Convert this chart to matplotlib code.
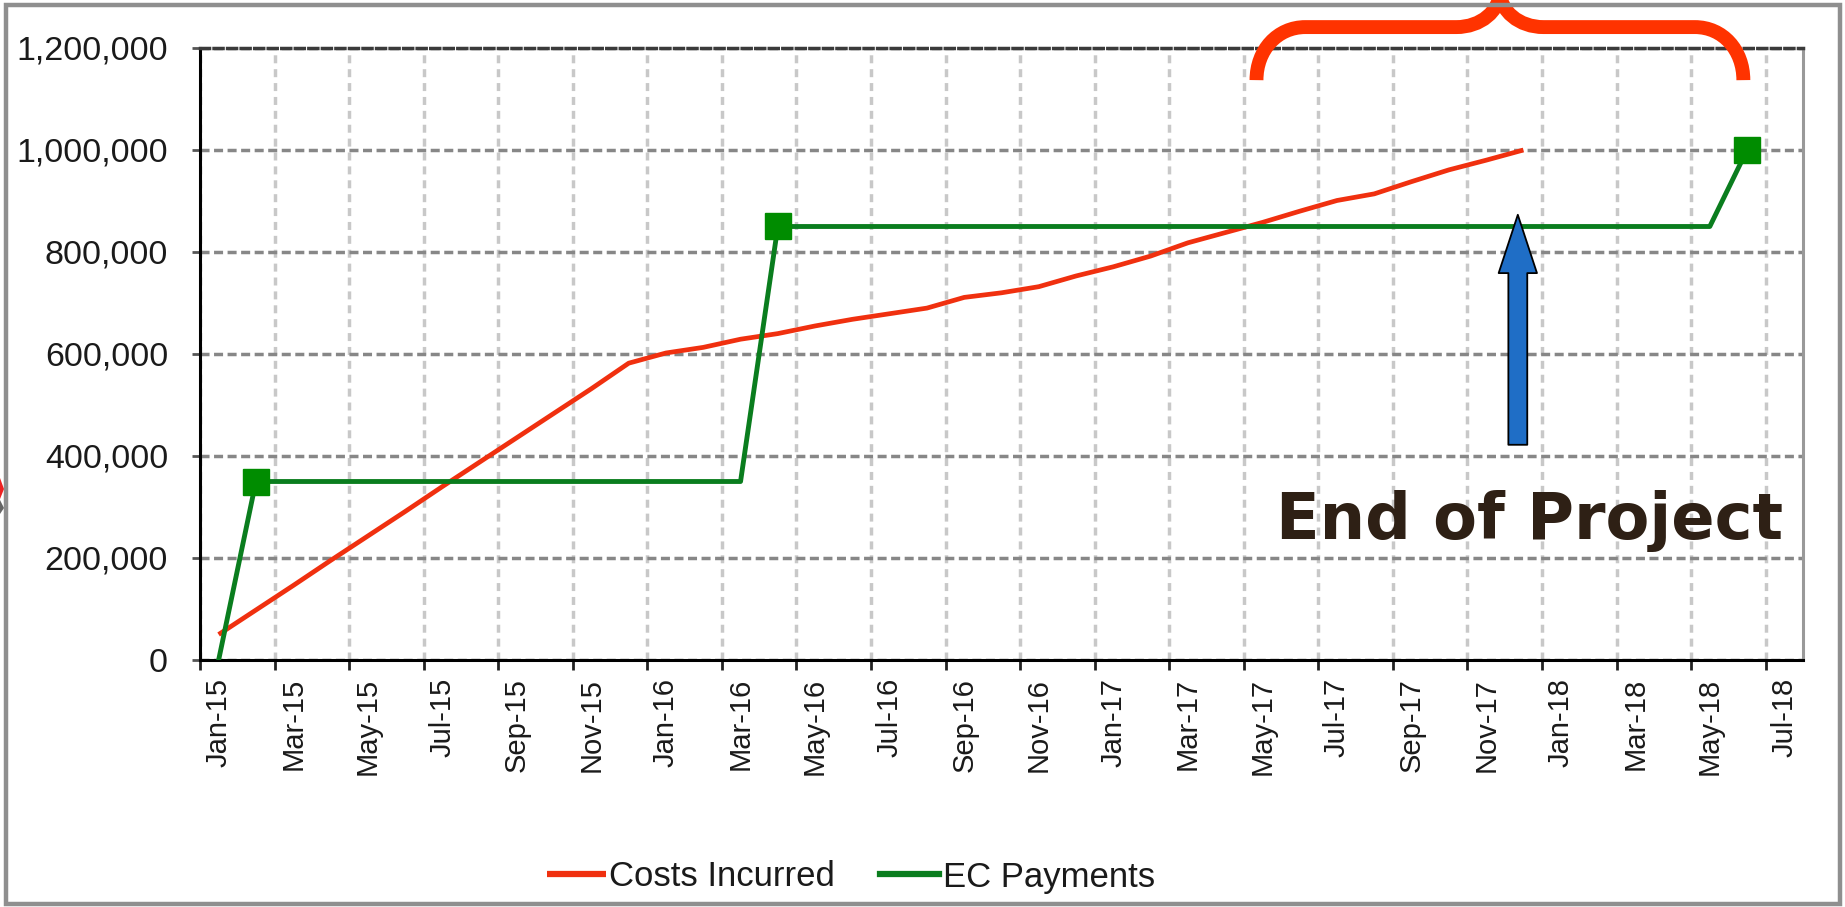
import matplotlib
matplotlib.use("Agg")
import matplotlib.pyplot as plt
from matplotlib.path import Path
from matplotlib.patches import PathPatch, Rectangle, Polygon
from matplotlib.ticker import FixedLocator, FixedFormatter, FuncFormatter

# === Data ===
# month index 0 = Jan-15, one value per month
costs_incurred = [
    50000, 98000, 146000, 195000, 243000, 291000, 340000, 388000, 436000, 484000,
    532000, 582000, 602000, 613000, 629000, 640000, 655000, 668000, 679000, 690000,
    711000, 720000, 732000, 753000, 771000, 792000, 818000, 838000, 858000, 880000,
    901000, 914000, 938000, 961000, 980000, 1000000,
]
ec_payments = [
    0,
    350000, 350000, 350000, 350000, 350000, 350000, 350000,
    350000, 350000, 350000, 350000, 350000, 350000, 350000,
    850000, 850000, 850000, 850000, 850000, 850000, 850000, 850000, 850000,
    850000, 850000, 850000, 850000, 850000, 850000, 850000, 850000, 850000,
    850000, 850000, 850000, 850000, 850000, 850000, 850000, 850000,
    1000000,
]
payment_months = [1, 15, 41]
month_labels = [
    "Jan-15", "Mar-15", "May-15", "Jul-15", "Sep-15", "Nov-15",
    "Jan-16", "Mar-16", "May-16", "Jul-16", "Sep-16", "Nov-16",
    "Jan-17", "Mar-17", "May-17", "Jul-17", "Sep-17", "Nov-17",
    "Jan-18", "Mar-18", "May-18", "Jul-18",
]
y_ticks = [0, 200000, 400000, 600000, 800000, 1000000, 1200000]
n_months = 43

W, H = 1845, 907
fig = plt.figure(figsize=(W / 100, H / 100), dpi=100)
fig.patch.set_facecolor("white")


def fx(px):
    return px / W


def fy(py):
    return 1 - py / H


ax = fig.add_axes([fx(200), fy(660), fx(1803) - fx(200), fy(48) - fy(660)])

# === Lines ===
ax.plot(range(len(costs_incurred)), costs_incurred, color="#f0300f", lw=3.4,
        label="Costs Incurred", zorder=4, solid_capstyle="butt")
ax.plot(range(len(ec_payments)), ec_payments, color="#0a7d1e", lw=3.5,
        label="EC Payments", zorder=5, marker="s", markersize=19,
        markevery=payment_months, markerfacecolor="#008c00",
        markeredgecolor="#008c00")

# === Axes / ticks ===
ax.set_xlim(-0.5, n_months - 0.5)
ax.set_ylim(0, 1200000)

centers = list(range(0, n_months, 2))
bounds = [c - 0.5 for c in centers]
ax.xaxis.set_major_locator(FixedLocator(bounds))
ax.xaxis.set_major_formatter(FixedFormatter([""] * len(bounds)))
ax.xaxis.set_minor_locator(FixedLocator(centers))
ax.xaxis.set_minor_formatter(FixedFormatter(month_labels))
ax.yaxis.set_major_locator(FixedLocator(y_ticks))
ax.yaxis.set_major_formatter(FuncFormatter(lambda v, p: f"{int(v):,}"))

ax.tick_params(axis="x", which="major", direction="out", length=7, width=2,
               color="#222222")
ax.tick_params(axis="x", which="minor", length=0, pad=13, labelrotation=90,
               labelsize=21, labelcolor="#1a1a1a")
ax.tick_params(axis="y", direction="out", length=6, width=2, color="#555555",
               pad=17, labelsize=24.5, labelcolor="#1a1a1a")
for lab in ax.get_xticklabels(minor=True) + ax.get_yticklabels():
    lab.set_fontfamily(["Liberation Sans", "DejaVu Sans"])

# === Grid ===
ax.grid(axis="y", color="#878787", lw=2.5, linestyle=(0, (2.6, 1.3)), zorder=1)
ax.grid(axis="x", which="major", color="#c8c8c8", lw=2.5,
        linestyle=(0, (2.3, 1.7)), zorder=0)
ax.set_axisbelow(True)

for side in ["left", "bottom"]:
    ax.spines[side].set_color("black")
    ax.spines[side].set_linewidth(2.2)
ax.spines["right"].set_color("#999999")
ax.spines["right"].set_linewidth(2.2)
ax.spines["top"].set_color("#3a3a3a")
ax.spines["top"].set_linewidth(2.5)
ax.spines["top"].set_linestyle((0, (2.6, 1.3)))

# === Legend ===
leg = fig.legend(loc="center", bbox_to_anchor=(fx(851), fy(877)), ncol=2,
                 frameon=False, prop={"family": ["Liberation Sans", "DejaVu Sans"],
                                      "size": 25},
                 handlelength=1.7, handletextpad=0.1, columnspacing=1.3)
for h in leg.legend_handles:
    h.set_linewidth(4.5)
    h.set_marker("")
for t in leg.get_texts():
    t.set_color("#1a1a1a")

# === Annotations ===
arrow_x = 34.85
ax.annotate("", xy=(arrow_x, 873000), xytext=(arrow_x, 422000),
            arrowprops=dict(arrowstyle="simple,head_length=2.1,head_width=1.38,tail_width=0.68",
                            mutation_scale=20, fc="#1f6ec6", ec="black", lw=1.3,
                            shrinkA=0, shrinkB=0),
            zorder=6)
ax.text(35.16, 237000, "End of Project", ha="center", va="baseline",
        fontsize=46, fontweight="bold", color="#2e2015",
        family="DejaVu Sans", zorder=7)

# curly brace above the last months
brace_verts = [
    (27.84, 1137000),
    (27.84, 1196000), (28.4, 1241000), (29.15, 1241000),
    (33.2, 1241000),
    (33.85, 1241000), (34.37, 1272000), (34.37, 1312000),
    (34.37, 1272000), (34.89, 1241000), (35.54, 1241000),
    (39.6, 1241000),
    (40.35, 1241000), (40.9, 1196000), (40.9, 1137000),
]
brace_codes = [Path.MOVETO,
               Path.CURVE4, Path.CURVE4, Path.CURVE4,
               Path.LINETO,
               Path.CURVE4, Path.CURVE4, Path.CURVE4,
               Path.CURVE4, Path.CURVE4, Path.CURVE4,
               Path.LINETO,
               Path.CURVE4, Path.CURVE4, Path.CURVE4]
brace = PathPatch(Path(brace_verts, brace_codes), fill=False, ec="#ff3300",
                  lw=10, capstyle="butt", joinstyle="round",
                  transform=ax.transData, clip_on=False, zorder=10)
ax.add_patch(brace)

# === Outer frame of the screenshot ===
frame = Rectangle((fx(6), fy(904)), fx(1840) - fx(6), fy(5) - fy(904),
                  transform=fig.transFigure, fill=False, ec="#8f8f8f", lw=3.2,
                  zorder=0)
fig.patches.append(frame)
# small cut-off shapes on the left edge
fig.patches.append(Polygon([(fx(0), fy(478)), (fx(4), fy(489)), (fx(0), fy(499))],
                           closed=True, transform=fig.transFigure, fc="#ee2222",
                           ec="none"))
fig.patches.append(Polygon([(fx(0), fy(500)), (fx(4), fy(508)), (fx(0), fy(514))],
                           closed=True, transform=fig.transFigure, fc="#666666",
                           ec="none"))

fig.savefig("out.png", dpi=100)
